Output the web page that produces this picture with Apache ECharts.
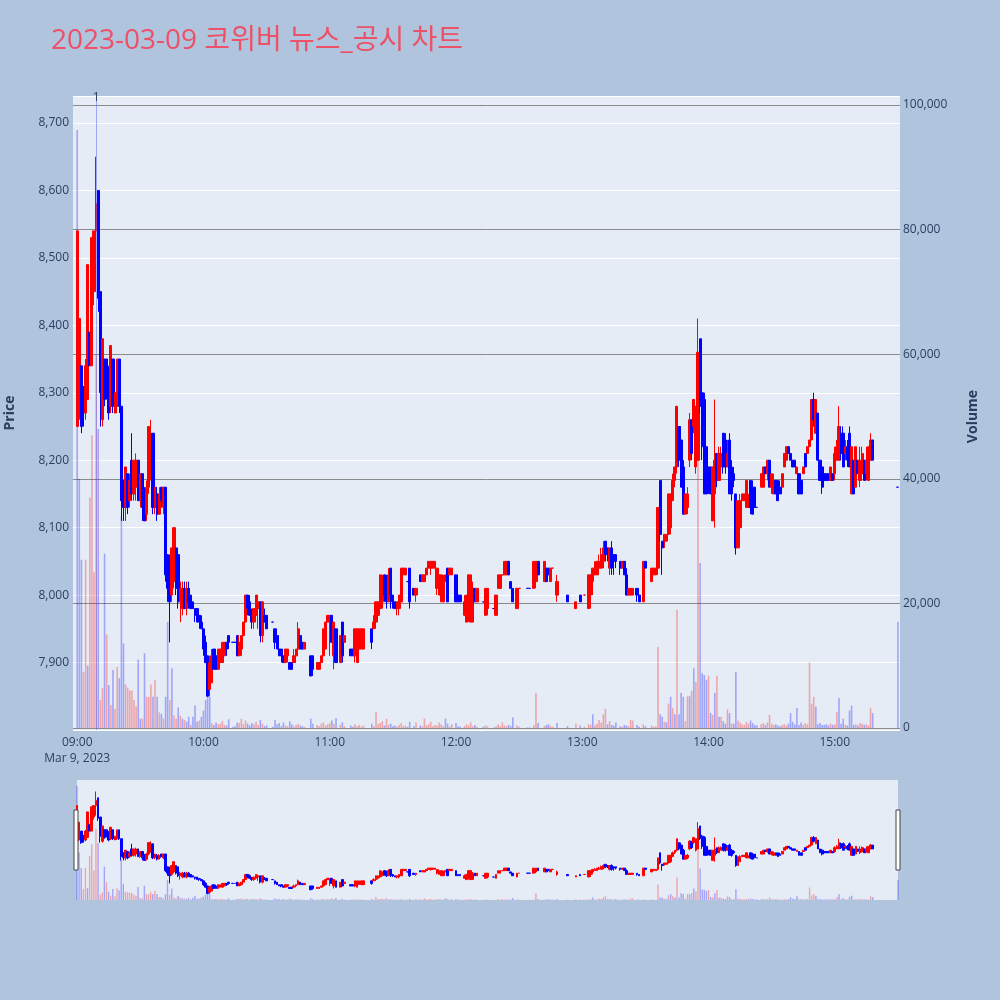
<!DOCTYPE html>
<html>
<head>
<meta charset="utf-8">
<title>2023-03-09 코위버 뉴스_공시 차트</title>
<script src="https://cdn.jsdelivr.net/npm/echarts@6/dist/echarts.min.js"></script>
<style>
  html, body { margin: 0; padding: 0; background: #b0c4de; }
  #chart { width: 1000px; height: 1000px; }
</style>
</head>
<body>
<div id="chart"></div>
<script>
// rows: [minute after 09:00, open, close, low, high, volume, volume colour 1=red 0=blue]
var h09 = [
  [0,8250,8540,8250,8540,96000,0],[1,8270,8410,8260,8410,40000,0],[2,8340,8250,8240,8340,27000,0],
  [3,8300,8270,8250,8310,9000,1],[4,8270,8340,8260,8350,27000,1],[5,8290,8490,8290,8490,10000,0],
  [6,8390,8340,8340,8390,37000,1],[7,8340,8530,8340,8530,47000,1],[8,8450,8540,8430,8540,25000,1],
  [9,8540,8580,8460,8650,60000,1],[10,8600,8440,8420,8600,48000,0],[11,8450,8300,8250,8450,4500,1],
  [12,8260,8380,8250,8380,6400,1],[13,8350,8290,8280,8350,28000,0],[14,8350,8310,8290,8350,15000,1],
  [15,8330,8270,8260,8340,6900,0],[16,8280,8370,8270,8370,3700,1],[17,8350,8280,8270,8350,9300,0],
  [18,8270,8300,8270,8300,3100,1],[19,8280,8350,8270,8350,9800,1],[20,8350,8280,8270,8350,8000,0],
  [21,8280,8140,8110,8280,34000,0],[22,8170,8130,8110,8170,13600,0],[23,8130,8190,8110,8190,7000,1],
  [24,8180,8130,8120,8180,6500,1],[25,8140,8170,8130,8180,6000,1],[26,8200,8150,8140,8240,6000,1],
  [27,8150,8200,8140,8200,4500,1],[28,8160,8200,8140,8210,3500,1],[29,8200,8140,8140,8200,11000,0],
  [30,8140,8180,8130,8180,1500,0],[31,8180,8130,8110,8180,1500,1],[32,8150,8110,8110,8160,12000,0],
  [33,8120,8160,8110,8170,5000,1],[34,8160,8250,8150,8250,5000,1],[35,8180,8220,8170,8260,7000,1],
  [36,8240,8130,8120,8240,5000,0],[37,8130,8160,8120,8160,7700,1],[38,8150,8120,8110,8160,5000,0],
  [39,8120,8150,8120,8160,2500,1],[40,8160,8140,8130,8160,2300,0],[41,8130,8160,8120,8160,1500,1],
  [42,8160,8030,8020,8160,5000,0],[43,8060,8010,7990,8060,17000,0],[44,8010,7990,7930,8060,4500,1],
  [45,8000,8070,7990,8070,9600,0],[46,8020,8100,8010,8100,2000,1],[47,8070,8010,8000,8070,1500,1],
  [48,8060,7990,7980,8060,3300,0],[49,7990,8010,7960,8020,2000,1],[50,7980,8010,7970,8020,1500,0],
  [51,8010,7980,7980,8020,1300,1],[52,7980,8010,7970,8020,1000,0],[53,8010,7990,7980,8020,1800,0],
  [54,8000,7980,7980,8000,500,1],[55,7990,7980,7980,7990,1800,0],[56,7980,7970,7960,7980,3600,0],
  [57,7980,7960,7960,7980,1000,0],[58,7970,7960,7950,7970,1200,1],[59,7960,7950,7950,7970,1800,0]
];
var h10 = [
  [60,7950,7920,7910,7950,2800,0],[61,7930,7900,7900,7940,4500,0],[62,7910,7850,7850,7910,5000,0],
  [63,7860,7900,7850,7910,5000,0],[64,7870,7910,7870,7920,800,1],[65,7920,7890,7890,7920,500,0],
  [66,7910,7890,7890,7920,900,0],[67,7890,7920,7890,7920,600,1],[68,7900,7920,7900,7920,700,1],
  [69,7900,7930,7900,7930,1100,1],[70,7910,7930,7910,7930,500,1],[71,7930,7920,7910,7930,400,0],
  [72,7940,7930,7920,7940,1400,0],[74,7930,7930,7930,7930,200,0],[75,7930,7930,7930,7930,300,0],
  [76,7940,7910,7910,7940,900,0],[77,7910,7930,7910,7940,800,1],[78,7920,7940,7910,7940,1500,1],
  [79,7940,7960,7940,7960,600,1],[80,7960,8000,7960,8000,1200,1],[81,8000,7980,7970,8000,700,0],
  [82,7990,7970,7970,8000,400,0],[83,7970,7960,7950,7980,800,0],[84,7960,7980,7950,7980,600,1],
  [85,7970,8000,7960,8000,1000,1],[86,7980,7990,7950,8000,500,1],[87,7990,7940,7930,7990,1300,0],
  [88,7940,7990,7930,7990,700,1],[89,7970,7960,7960,7980,300,0],[90,7970,7950,7950,7970,400,0],
  [93,7960,7960,7960,7960,200,0],[94,7950,7930,7920,7950,1300,0],[95,7940,7920,7920,7940,600,0],
  [96,7920,7910,7910,7920,800,0],[97,7920,7910,7900,7920,300,0],[98,7910,7900,7900,7910,900,0],
  [99,7900,7920,7900,7920,400,1],[100,7910,7920,7900,7920,300,1],[101,7900,7890,7890,7900,1100,0],
  [102,7900,7890,7890,7900,600,0],[103,7900,7910,7900,7920,300,1],[104,7910,7920,7900,7920,500,1],
  [105,7920,7950,7920,7960,700,1],[106,7940,7920,7920,7940,400,0],[107,7930,7920,7920,7930,300,0],
  [108,7920,7930,7920,7930,200,1],[111,7910,7880,7880,7910,1500,0],[112,7910,7890,7880,7910,700,0],
  [114,7890,7900,7890,7900,500,1],[115,7890,7900,7890,7900,300,1],[116,7900,7910,7900,7910,700,1],
  [117,7910,7950,7910,7950,900,1],[118,7920,7960,7920,7960,400,1],[119,7960,7970,7960,7970,600,1]
];
var h11 = [
  [120,7960,7970,7910,7970,800,1],[121,7970,7930,7930,7970,1200,0],[122,7910,7960,7890,7960,700,1],
  [123,7950,7900,7900,7950,1600,0],[125,7900,7940,7900,7940,500,1],[126,7960,7910,7900,7960,900,0],
  [127,7930,7940,7930,7940,300,1],[130,7920,7910,7910,7920,400,0],[131,7920,7910,7910,7920,200,0],
  [132,7910,7950,7900,7950,600,1],[133,7900,7950,7900,7950,300,1],[134,7920,7950,7920,7950,500,1],
  [135,7920,7950,7920,7950,200,1],[136,7920,7950,7920,7950,400,1],[140,7950,7930,7920,7950,700,0],
  [141,7950,7960,7950,7970,300,1],[142,7960,7990,7950,7990,2600,1],[143,7970,7990,7960,7990,600,1],
  [144,7980,8030,7970,8030,800,1],[145,7990,8020,7980,8030,1100,1],[146,8030,8000,7990,8030,400,0],
  [147,8020,7990,7980,8030,1500,1],[148,7990,8030,7990,8040,500,1],[149,8040,8000,7980,8040,700,0],
  [150,8000,7990,7980,8000,300,0],[151,7990,7980,7980,7990,400,0],[152,7980,7990,7970,7990,200,1],
  [153,7980,8000,7970,8000,500,1],[154,7990,8040,7990,8040,800,1],[155,8030,8040,8030,8040,300,1],
  [156,8030,8040,8030,8040,400,1],[157,8020,8020,8020,8020,200,0],[158,8040,7990,7980,8040,1000,0],
  [160,8010,8000,8000,8010,300,0],[161,8000,8010,7990,8010,900,1],[163,8030,8020,8020,8030,400,0],
  [164,8020,8030,8020,8030,300,1],[165,8020,8030,8020,8030,1500,1],[166,8030,8040,8030,8040,400,1],
  [167,8040,8050,8040,8050,600,1],[168,8040,8050,8030,8050,1000,1],[169,8040,8050,8040,8050,300,1],
  [170,8040,8050,8040,8050,500,1],[171,8010,8040,8000,8040,400,1],[172,8000,8030,8000,8040,900,1],
  [173,7990,8030,7990,8030,600,1],[174,7990,8020,7990,8030,300,1],[175,8020,8030,8020,8030,1500,0],
  [176,8040,7990,7990,8040,700,0],[177,8030,8040,8030,8040,300,1],[178,8030,8040,8030,8040,600,1]
];
var h12 = [
  [180,8030,7990,7990,8030,800,0],[181,8000,7990,7990,8000,300,0],[182,8000,7990,7990,8000,200,0],
  [184,7970,7990,7970,8000,300,1],[185,7960,8000,7960,8000,600,1],[186,7970,8030,7960,8030,400,1],
  [187,7960,8030,7960,8030,900,1],[188,7960,8010,7960,8020,300,1],[189,8010,7990,7990,8010,500,0],
  [190,7990,8010,7990,8010,200,1],[193,7990,7990,7990,7990,200,0],[194,7970,8010,7970,8010,400,1],
  [195,7980,8010,7970,8010,300,1],[198,7980,7980,7980,7980,100,0],[199,7970,8000,7970,8000,300,1],
  [200,8010,8030,8010,8030,600,1],[201,8010,8030,8010,8030,300,1],[202,8030,8030,8030,8030,900,1],
  [203,8030,8050,8030,8050,400,1],[204,8030,8050,8030,8050,300,1],[205,8050,8030,8030,8050,500,0],
  [206,8020,8010,8010,8020,300,0],[207,8010,7990,7990,8010,1700,0],[209,7980,8010,7980,8010,400,1],
  [210,8010,8010,8010,8010,200,1],[214,8010,8010,8010,8010,100,0],[215,8010,8010,8010,8010,100,0],
  [217,8010,8050,8010,8050,500,1],[218,8020,8050,8010,8050,5600,1],[219,8050,8030,8030,8050,800,0],
  [222,8020,8050,8020,8050,300,1],[223,8040,8020,8020,8040,500,0],[224,8040,8030,8030,8040,600,0],
  [225,8020,8040,8020,8040,300,1],[226,8040,8040,8040,8040,200,1],[228,8000,8020,7990,8030,800,0],
  [233,8000,7990,7990,8000,300,0],[237,7980,7990,7980,7990,700,1],[239,8000,7990,7990,8000,400,0]
];
var h13 = [
  [241,8000,8000,8000,8000,200,1],[243,7980,8030,7980,8030,600,1],[244,8000,8030,7980,8030,500,1],
  [245,8020,8040,8000,8040,2200,0],[246,8030,8040,8030,8050,400,1],[247,8030,8050,8030,8050,700,1],
  [248,8040,8050,8040,8060,1300,1],[249,8040,8060,8040,8070,900,1],[250,8050,8070,8040,8080,2200,1],
  [251,8080,8060,8050,8080,3100,1],[252,8070,8060,8050,8070,600,0],[253,8040,8070,8030,8070,1100,1],
  [254,8070,8040,8030,8080,500,0],[255,8060,8050,8030,8060,400,0],[256,8060,8050,8040,8060,900,0],
  [258,8050,8040,8030,8050,300,0],[259,8040,8050,8040,8050,200,1],[260,8050,8030,8030,8050,500,0],
  [261,8030,8000,8000,8040,400,0],[262,8000,8010,8000,8010,300,1],[263,8000,8010,8000,8010,1300,1],
  [264,8000,8010,8000,8010,1200,1],[266,8010,8000,7990,8010,500,0],[267,8000,7990,7990,8000,200,0],
  [269,7990,8050,7990,8050,600,1],[270,8050,8040,8040,8050,300,0],[273,8020,8040,8020,8040,400,1],
  [274,8030,8040,8030,8040,200,1],[275,8030,8040,8030,8040,300,1],[276,8040,8130,8030,8130,13000,1],
  [277,8170,8090,8080,8170,2200,0],[278,8080,8070,8030,8080,1800,0],[279,8080,8090,8070,8090,1000,1],
  [280,8080,8090,8080,8090,900,0],[281,8090,8150,8090,8150,3900,1],[282,8100,8150,8090,8150,5000,0],
  [283,8140,8170,8140,8180,3200,1],[284,8170,8190,8160,8190,2200,0],[285,8190,8280,8180,8280,19000,1],
  [286,8250,8200,8190,8250,2200,0],[287,8230,8160,8160,8250,5600,0],[288,8190,8120,8120,8200,5000,0],
  [289,8120,8150,8120,8150,1100,1],[290,8130,8150,8120,8160,5100,1],[291,8200,8260,8190,8270,5100,0],
  [292,8260,8210,8200,8260,6000,1],[293,8250,8290,8240,8290,9600,0],[294,8190,8280,8180,8280,7400,1],
  [295,8200,8360,8200,8410,45000,1],[296,8380,8280,8270,8380,26500,0],[297,8300,8220,8200,8310,8800,0],
  [298,8290,8150,8150,8300,8500,0],[299,8220,8150,8150,8220,7700,0]
];
var h14 = [
  [300,8190,8160,8150,8190,8400,1],[301,8190,8150,8150,8190,2400,0],[302,8110,8190,8110,8190,2100,1],
  [303,8150,8200,8100,8290,5600,0],[304,8210,8170,8160,8210,8400,1],[305,8170,8210,8170,8220,1800,0],
  [306,8190,8210,8190,8220,1800,1],[307,8240,8190,8180,8240,1100,0],[308,8230,8190,8180,8240,700,0],
  [309,8190,8210,8190,8230,3000,1],[310,8230,8150,8150,8240,2400,0],[311,8190,8150,8140,8200,700,1],
  [312,8180,8170,8160,8190,700,0],[313,8150,8070,8060,8150,9000,0],[314,8070,8140,8070,8140,1200,1],
  [315,8100,8140,8100,8150,900,1],[316,8140,8150,8140,8150,600,1],[317,8140,8150,8140,8150,500,1],
  [318,8130,8170,8130,8170,1000,1],[319,8130,8140,8130,8150,700,1],[320,8170,8130,8120,8170,1200,0],
  [321,8160,8120,8120,8170,800,0],[322,8160,8130,8130,8160,500,0],[323,8130,8130,8130,8130,400,0],
  [325,8160,8180,8160,8180,600,1],[326,8160,8190,8160,8190,800,1],[327,8190,8180,8180,8190,500,0],
  [328,8180,8200,8170,8200,900,1],[329,8200,8160,8160,8200,2100,1],[330,8160,8180,8150,8180,700,1],
  [331,8150,8170,8150,8180,500,1],[332,8170,8150,8150,8170,600,0],[333,8170,8140,8140,8170,400,0],
  [334,8160,8150,8150,8170,300,0],[335,8160,8180,8160,8180,500,1],[336,8190,8210,8190,8210,600,1],
  [337,8200,8220,8200,8220,400,1],[338,8220,8210,8210,8220,700,0],[339,8210,8200,8200,8210,2400,0],
  [340,8200,8190,8190,8200,1000,0],[341,8200,8190,8190,8200,600,0],[342,8180,8190,8180,8190,3200,0],
  [343,8180,8150,8150,8180,500,0],[344,8170,8150,8150,8170,900,0],[345,8180,8190,8180,8190,500,1],
  [346,8210,8190,8190,8210,800,1],[347,8210,8220,8210,8220,600,1],[348,8220,8230,8220,8230,10500,1],
  [349,8230,8290,8230,8290,3900,1],[350,8290,8260,8250,8300,5000,1],[351,8240,8290,8240,8290,3400,0],
  [352,8270,8200,8200,8270,600,0],[353,8200,8170,8170,8200,800,0],[354,8190,8160,8150,8200,500,0],
  [355,8180,8170,8170,8180,500,0],[356,8180,8170,8170,8180,600,0],[357,8180,8170,8170,8180,400,0],
  [358,8170,8190,8170,8190,700,1],[359,8180,8170,8170,8180,500,0]
];
var h15 = [
  [360,8180,8210,8170,8220,600,1],[361,8200,8220,8200,8230,2600,1],[362,8200,8250,8200,8280,4800,0],
  [363,8240,8210,8200,8250,700,0],[364,8240,8190,8190,8250,1500,0],[365,8210,8220,8200,8230,500,1],
  [366,8220,8200,8190,8230,400,0],[367,8240,8190,8190,8250,2800,0],[368,8150,8220,8150,8220,3600,0],
  [369,8200,8150,8150,8200,500,0],[370,8160,8220,8160,8220,600,1],[371,8200,8180,8180,8200,400,0],
  [372,8170,8200,8160,8220,800,1],[373,8180,8210,8170,8220,700,1],[374,8200,8170,8170,8200,500,0],
  [375,8180,8200,8170,8220,600,1],[376,8170,8220,8170,8220,400,1],[377,8200,8230,8200,8240,3200,1],
  [378,8230,8200,8200,8230,2400,0],[390,8160,8160,8160,8160,17000,0]
];
var newsMarks = [{ time: '09:09', label: '1' }];

var UP = '#ff0000', DOWN = '#0000ff';
var UP_VOL = 'rgba(255,0,0,0.3)', DOWN_VOL = 'rgba(0,0,255,0.3)';
var FONT = 'Open Sans, Noto Sans CJK KR, sans-serif';

var byMinute = {};
[].concat(h09, h10, h11, h12, h13, h14, h15).forEach(function (r) { byMinute[r[0]] = r; });

function hhmm(m) {
  var t = 540 + m;
  var h = Math.floor(t / 60), mm = t % 60;
  return (h < 10 ? '0' : '') + h + ':' + (mm < 10 ? '0' : '') + mm;
}

// categories, candles and volumes for a span of minutes
function build(from, to) {
  var cats = [], candles = [], vols = [];
  for (var m = from; m <= to; m++) {
    cats.push(hhmm(m));
    var r = byMinute[m];
    if (!r) {
      candles.push(['-', '-', '-', '-']);
      vols.push('-');
      continue;
    }
    var item = { value: [r[1], r[2], r[3], r[4]] };
    if (r[1] === r[2]) {
      var c = r[6] ? UP : DOWN;
      item.itemStyle = { color: c, color0: c, borderColor: c, borderColor0: c };
    }
    candles.push(item);
    vols.push({ value: r[5], itemStyle: { color: r[6] ? UP_VOL : DOWN_VOL } });
  }
  return { cats: cats, candles: candles, vols: vols };
}

var main = build(-2, 391);
var mini = build(0, 390);

var chart = echarts.init(document.getElementById('chart'));

var candleStyle = { color: UP, color0: DOWN, borderColor: UP, borderColor0: DOWN, borderWidth: 1 };

var option = {
  backgroundColor: '#b0c4de',
  animation: false,
  textStyle: { fontFamily: FONT },
  title: {
    text: '2023-03-09 코위버 뉴스_공시 차트',
    left: 46, top: 22,
    textStyle: { color: '#ec5168', fontSize: 28, fontWeight: 'normal', fontFamily: FONT }
  },
  grid: [
    { left: 73, right: 100, top: 96, bottom: 270, show: true, backgroundColor: '#e5ecf6', borderWidth: 0, containLabel: false, outerBoundsMode: 'none' },
    { left: 73, right: 100, top: 105, bottom: 272, containLabel: false, outerBoundsMode: 'none' },
    { left: 77, right: 102, top: 780, bottom: 100, show: true, backgroundColor: '#e5ecf6', borderWidth: 0, containLabel: false, outerBoundsMode: 'none' },
    { left: 77, right: 102, top: 780, bottom: 100, containLabel: false, outerBoundsMode: 'none' }
  ],
  xAxis: [
    {
      type: 'category', gridIndex: 0, data: main.cats, boundaryGap: false,
      axisLine: { show: false }, axisTick: { show: false }, splitLine: { show: false },
      axisLabel: {
        color: '#2a3f5f', fontSize: 12, margin: 5, lineHeight: 16,
        interval: function (idx, val) { return val.slice(3) === '00'; },
        formatter: function (val) { return val === '09:00' ? '09:00\nMar 9, 2023' : val; }
      }
    },
    { type: 'category', gridIndex: 1, data: main.cats, boundaryGap: false, show: false },
    { type: 'category', gridIndex: 2, data: mini.cats, boundaryGap: false, show: false },
    { type: 'category', gridIndex: 3, data: mini.cats, boundaryGap: false, show: false }
  ],
  yAxis: [
    {
      type: 'value', gridIndex: 0, min: 7800, max: 8740, interval: 100,
      name: 'Price', nameLocation: 'middle', nameGap: 56,
      nameTextStyle: { color: '#2a3f5f', fontSize: 14, fontWeight: 'bold' },
      axisLine: { show: false }, axisTick: { show: false },
      axisLabel: {
        color: '#2a3f5f', fontSize: 12, margin: 4, showMinLabel: false, showMaxLabel: false,
        formatter: function (v) { return v.toLocaleString('en-US'); }
      },
      splitLine: { lineStyle: { color: '#ffffff', width: 1 } }
    },
    {
      type: 'value', gridIndex: 1, position: 'right', min: 0, max: 100000, interval: 20000,
      name: 'Volume', nameLocation: 'middle', nameGap: 66, nameRotate: 90,
      nameTextStyle: { color: '#2a3f5f', fontSize: 14, fontWeight: 'bold' },
      axisLine: { show: false }, axisTick: { show: false },
      axisLabel: {
        color: '#2a3f5f', fontSize: 12, margin: 3,
        formatter: function (v) { return v.toLocaleString('en-US'); }
      },
      splitLine: { lineStyle: { color: '#8a8a8a', width: 1 } }
    },
    { type: 'value', gridIndex: 2, min: 7800, max: 8740, show: false, splitLine: { show: false } },
    { type: 'value', gridIndex: 3, min: 0, max: 101000, show: false, splitLine: { show: false } }
  ],
  series: [
    {
      name: 'Volume', type: 'bar', xAxisIndex: 1, yAxisIndex: 1,
      barWidth: 1.6, z: 2, silent: true, data: main.vols
    },
    {
      name: 'Price', type: 'candlestick', xAxisIndex: 0, yAxisIndex: 0,
      barWidth: 2.6, z: 3, silent: true, itemStyle: candleStyle, data: main.candles,
      markLine: {
        silent: true, symbol: ['none', 'none'],
        lineStyle: { color: 'rgba(99,110,250,0.55)', width: 1, type: 'solid' },
        label: { show: true, position: 'end', distance: -8, color: '#2a3f5f', fontSize: 12,
          formatter: function (p) { return p.data.label; } },
        data: newsMarks.map(function (n) { return { xAxis: n.time, label: n.label }; })
      }
    },
    {
      type: 'bar', xAxisIndex: 3, yAxisIndex: 3,
      barWidth: 1.4, z: 2, silent: true, data: mini.vols
    },
    {
      type: 'candlestick', xAxisIndex: 2, yAxisIndex: 2,
      barWidth: 2.2, z: 3, silent: true, itemStyle: candleStyle, data: mini.candles
    }
  ],
  graphic: [
    { type: 'rect', shape: { x: 74, y: 810, width: 4, height: 60 },
      style: { fill: '#ffffff', stroke: '#444444', lineWidth: 1 }, z: 10 },
    { type: 'rect', shape: { x: 896, y: 810, width: 4, height: 60 },
      style: { fill: '#ffffff', stroke: '#444444', lineWidth: 1 }, z: 10 }
  ]
};

chart.setOption(option);
</script>
</body>
</html>
